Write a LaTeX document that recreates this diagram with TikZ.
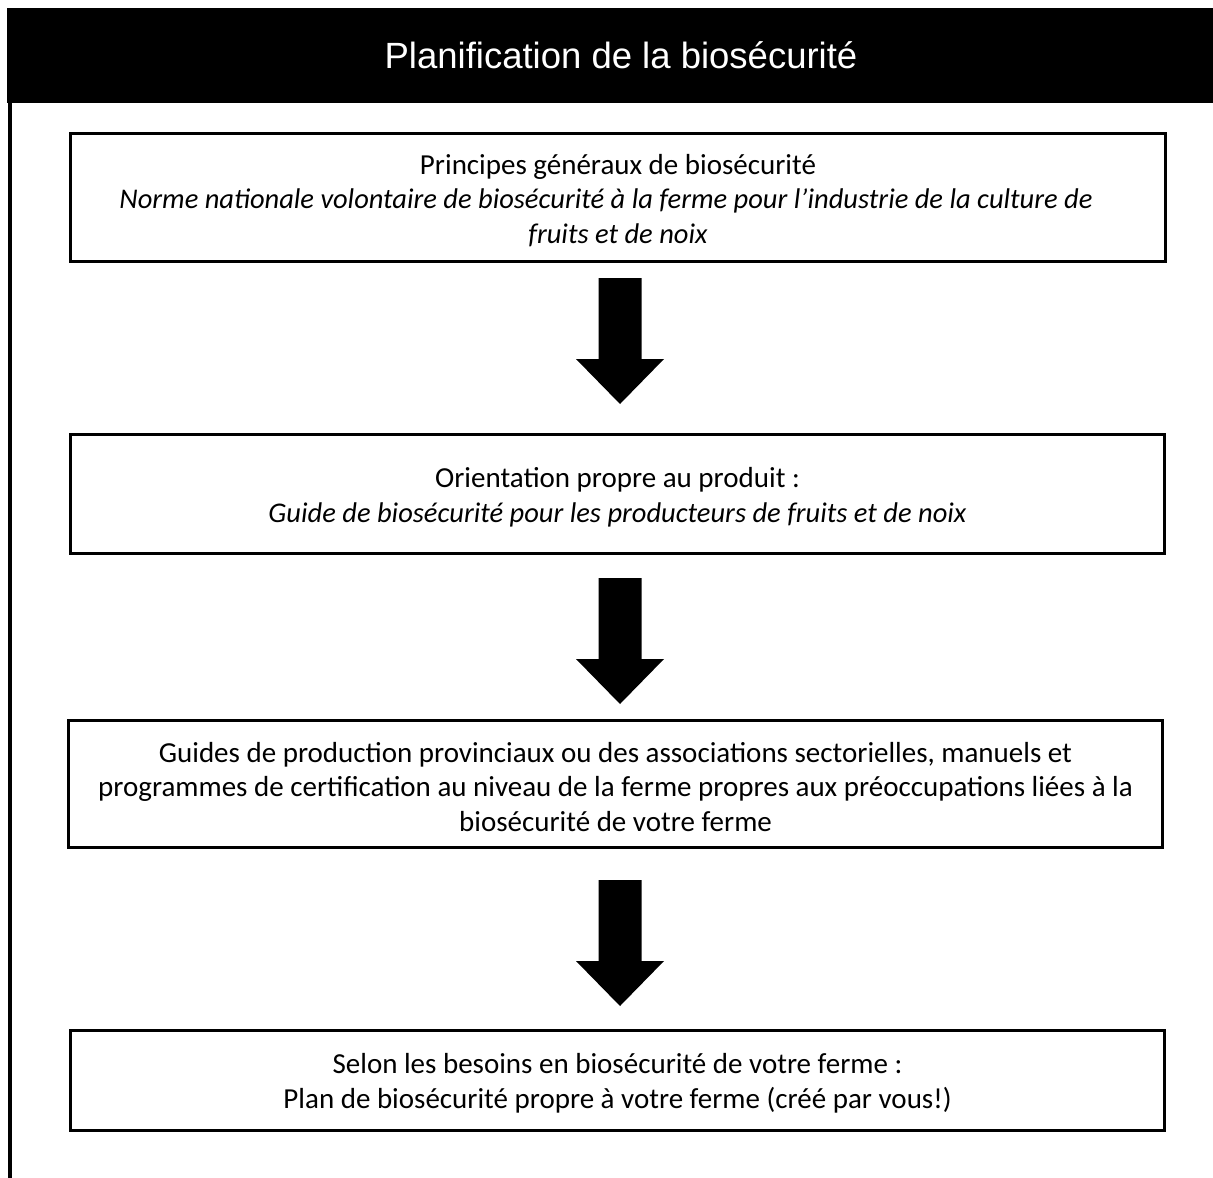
\documentclass[tikz,border=0pt]{standalone}
\usepackage{fontspec}
\setmainfont{Carlito}
\newfontfamily\titlefont{Liberation Sans}
\begin{document}
\begin{tikzpicture}[x=1pt,y=-1pt,
  box/.style={draw=black,line width=3pt,fill=white,inner sep=0pt},
  boxtext/.style={align=center,inner sep=0pt,yshift=-3pt,
    font=\fontsize{29}{34.5}\selectfont},
  blockarrow/.style={fill=black}]
\useasboundingbox (0,0) rectangle (1213,1178);
% header
\fill[black] (7,8) rectangle (1213,103);
\node[text=white,font=\titlefont\fontsize{36.5}{40}\selectfont] (title) at (621,55) {Planification de la biosécurité};
\draw[line width=4pt] (10,103) -- (10,1178);
% boxes
\node[box,minimum width=1095,minimum height=128] (b1) at (618,197.5) {};
\node[boxtext] (t1) at (b1.center)
 {Principes généraux de biosécurité\\
  \textit{\fontsize{28.5}{34.5}\selectfont Norme nationale volontaire de biosécurité à la ferme pour l’industrie de la culture de}\rule{24pt}{0pt}\\
  \textit{\fontsize{28.5}{34.5}\selectfont fruits et de noix}};
\node[box,minimum width=1094,minimum height=119] (b2) at (617.5,494) {};
\node[boxtext] (t2) at (b2.center)
 {Orientation propre au produit :\\
  \textit{\fontsize{28.5}{34.5}\selectfont Guide de biosécurité pour les producteurs de fruits et de noix}};
\node[box,minimum width=1094,minimum height=127] (b3) at (615.5,784) {};
\node[boxtext] (t3) at (b3.center)
 {Guides de production provinciaux ou des associations sectorielles, manuels et\\
  programmes de certification au niveau de la ferme propres aux préoccupations liées à la\\
  biosécurité de votre ferme};
\node[box,minimum width=1094,minimum height=100] (b4) at (617.5,1080.5) {};
\node[boxtext] (t4) at (b4.center)
 {Selon les besoins en biosécurité de votre ferme :\\
  Plan de biosécurité propre à votre ferme (créé par vous!)};
% arrows
\coordinate (a1) at (620,278);
\coordinate (a2) at (620,578);
\coordinate (a3) at (620,880);
\foreach \c in {a1,a2,a3}{
  \fill[blockarrow,shift={(\c)}] (-21.5,0) -- (21.5,0) -- (21.5,81) -- (44,81) -- (0,126) -- (-44,81) -- (-21.5,81) -- cycle;
}
\end{tikzpicture}
\end{document}
